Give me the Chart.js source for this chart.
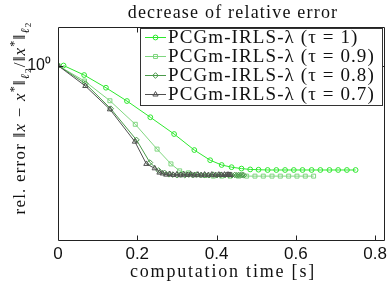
<!DOCTYPE html>
<html><head><meta charset="utf-8">
<script src="https://cdn.jsdelivr.net/npm/chart.js@4/dist/chart.umd.min.js"></script>
<style>html,body{margin:0;padding:0;background:#fff}#wrap{width:390px;height:283px}</style>
</head><body><div id="wrap"><canvas id="c" width="390" height="283"></canvas></div>
<script>
// ---- data ----
const seriesLabels = ['PCGm-IRLS-λ (τ = 1)', 'PCGm-IRLS-λ (τ = 0.9)', 'PCGm-IRLS-λ (τ = 0.8)', 'PCGm-IRLS-λ (τ = 0.7)'];
const xTicks = [0, 0.2, 0.4, 0.6, 0.8];
const yTicks = [1];

const time1 = [0.014, 0.066, 0.121, 0.174, 0.233, 0.293, 0.344, 0.384, 0.413, 0.438, 0.463, 0.485, 0.506, 0.529, 0.551, 0.573, 0.595, 0.617, 0.640, 0.662, 0.685, 0.707, 0.729, 0.751];
const err1  = [1.0, 0.916, 0.815, 0.721, 0.621, 0.532, 0.459, 0.418, 0.400, 0.392, 0.387, 0.384, 0.383, 0.382, 0.382, 0.382, 0.382, 0.382, 0.382, 0.382, 0.382, 0.382, 0.382, 0.382];

const time2 = [0, 0.067, 0.131, 0.195, 0.250, 0.285, 0.307, 0.329, 0.350, 0.371, 0.392, 0.413, 0.434, 0.455, 0.476, 0.497, 0.518, 0.540, 0.561, 0.582, 0.603, 0.624, 0.645];
const err2  = [1.0, 0.867, 0.723, 0.582, 0.463, 0.404, 0.379, 0.372, 0.366, 0.363, 0.361, 0.361, 0.361, 0.361, 0.361, 0.361, 0.361, 0.361, 0.361, 0.361, 0.361, 0.361, 0.361];

const time3 = [0, 0.069, 0.133, 0.198, 0.232, 0.254, 0.269, 0.280, 0.290, 0.300, 0.310, 0.320, 0.330, 0.340, 0.350, 0.360, 0.370, 0.381, 0.391, 0.401, 0.411, 0.421, 0.431, 0.439, 0.446, 0.451, 0.456, 0.461, 0.465, 0.469];
const err3  = [1.0, 0.847, 0.672, 0.504, 0.409, 0.380, 0.372, 0.367, 0.366, 0.364, 0.366, 0.364, 0.366, 0.364, 0.366, 0.364, 0.365, 0.364, 0.366, 0.364, 0.365, 0.364, 0.365, 0.364, 0.365, 0.364, 0.365, 0.364, 0.365, 0.364];

const time4 = [0, 0.069, 0.131, 0.194, 0.223, 0.244, 0.256, 0.264, 0.273, 0.282, 0.291, 0.300, 0.309, 0.317, 0.326, 0.335, 0.344, 0.353, 0.362, 0.370, 0.379, 0.388, 0.397, 0.406, 0.413, 0.420, 0.425, 0.429, 0.432, 0.436];
const err4  = [1.0, 0.828, 0.668, 0.496, 0.404, 0.388, 0.373, 0.370, 0.366, 0.368, 0.365, 0.367, 0.364, 0.367, 0.365, 0.367, 0.364, 0.366, 0.364, 0.366, 0.364, 0.366, 0.364, 0.366, 0.365, 0.366, 0.365, 0.366, 0.365, 0.365];

// ---- styles ----
const colors = ['#2ee82e', '#7fd67f', '#4a9a4a', '#505050'];
const markers = ['circle', 'rect', 'rectRot', 'triangle'];
const radii = [2.4, 2.8, 2.8, 3];

const times = [time1, time2, time3, time4];
const errs = [err1, err2, err3, err4];

const datasets = seriesLabels.map((lab, i) => ({
  label: lab,
  data: times[i].map((t, k) => ({x: t, y: errs[i][k]})),
  borderColor: colors[i],
  backgroundColor: 'rgba(0,0,0,0)',
  pointBorderColor: colors[i],
  pointBackgroundColor: 'rgba(0,0,0,0)',
  pointStyle: markers[i],
  pointRadius: radii[i],
  pointBorderWidth: 1,
  borderWidth: 1,
  tension: 0,
  order: 4 - i
}));

const SERIF = '"Liberation Serif", "DejaVu Serif", serif';

function drawRich(ctx, parts, cx, cy, rot, spacing) {
  ctx.save();
  ctx.translate(cx, cy);
  ctx.rotate(rot);
  if ('letterSpacing' in ctx) ctx.letterSpacing = spacing + 'px';
  let total = 0;
  parts.forEach(p => { ctx.font = p.f; p.w = ctx.measureText(p.t).width; total += p.w; });
  let x = -total / 2;
  ctx.textBaseline = 'alphabetic';
  ctx.textAlign = 'left';
  parts.forEach(p => { ctx.font = p.f; ctx.fillText(p.t, x, p.dy || 0); x += p.w; });
  ctx.restore();
}

function spacedText(ctx, text, x, y, spacing, align) {
  ctx.save();
  if ('letterSpacing' in ctx) ctx.letterSpacing = spacing + 'px';
  const w = ctx.measureText(text).width;
  ctx.textAlign = 'left';
  const sx = align === 'center' ? x - w / 2 : x;
  ctx.fillText(text, sx, y);
  ctx.restore();
}

const decorPlugin = {
  id: 'decor',
  afterDatasetsDraw(chart) {
    const {ctx, chartArea: a, scales: {x, y}} = chart;
    ctx.save();
    // frame
    ctx.strokeStyle = '#222';
    ctx.lineWidth = 1;
    const L = Math.round(a.left) + 0.5, R = Math.round(a.right) - 0.5, T = Math.round(a.top) + 0.5, B = Math.round(a.bottom) - 0.5;
    ctx.beginPath();
    ctx.rect(L, T, R - L, B - T);
    ctx.stroke();
    // inward ticks
    ctx.beginPath();
    x.ticks.forEach(tk => {
      const px = Math.round(x.getPixelForValue(tk.value)) + 0.5;
      if (px <= L + 1 || px >= R - 1) return;
      ctx.moveTo(px, B); ctx.lineTo(px, B - 5);
      ctx.moveTo(px, T); ctx.lineTo(px, T + 5);
    });
    y.ticks.forEach(tk => {
      const py = Math.round(y.getPixelForValue(tk.value)) + 0.5;
      ctx.moveTo(L, py); ctx.lineTo(L + 5, py);
      ctx.moveTo(R, py); ctx.lineTo(R - 5, py);
    });
    ctx.stroke();
    // legend box
    const bx = 140.5, by = 28.5, bw = 242, bh = 77;
    ctx.fillStyle = '#fff';
    ctx.fillRect(bx, by, bw, bh);
    ctx.strokeStyle = '#333';
    ctx.strokeRect(bx, by, bw, bh);
    chart.data.datasets.forEach((ds, i) => {
      const cy = 37.5 + i * 19;
      ctx.strokeStyle = ds.borderColor;
      ctx.lineWidth = 1;
      ctx.beginPath(); ctx.moveTo(145, cy); ctx.lineTo(166, cy); ctx.stroke();
      ctx.fillStyle = 'rgba(0,0,0,0)';
      ctx.strokeStyle = ds.borderColor;
      Chart.helpers.drawPoint(ctx, {pointStyle: ds.pointStyle, radius: ds.pointRadius, borderWidth: 1, rotation: 0}, 155.5, cy);
      ctx.fillStyle = '#111';
      ctx.font = '19px ' + SERIF;
      ctx.textBaseline = 'middle';
      spacedText(ctx, ds.label, 168, cy + 1, 1.1, 'left');
    });
    ctx.restore();
  },
  afterDraw(chart) {
    const {ctx} = chart;
    ctx.save();
    ctx.fillStyle = '#111';
    ctx.textBaseline = 'alphabetic';
    // title
    ctx.font = '18px ' + SERIF;
    spacedText(ctx, 'decrease of relative error', 233, 18, 1.2, 'center');
    // x axis title
    ctx.font = '18px ' + SERIF;
    spacedText(ctx, 'computation time [s]', 223, 277, 1.8, 'center');
    // y axis title
    const b = '17px ' + SERIF, it = 'italic 17px ' + SERIF, sm = '12px ' + SERIF, smi = 'italic 12px ' + SERIF, tiny = '9px ' + SERIF;
    const parts = [
      {t: 'rel. error ', f: b}, {t: '‖', f: b}, {t: 'x', f: it}, {t: ' − ', f: b}, {t: 'x', f: it}, {t: '*', f: sm, dy: -7},
      {t: '‖', f: b}, {t: 'ℓ', f: smi, dy: 4}, {t: '2', f: tiny, dy: 6}, {t: '/', f: b}, {t: '‖', f: b}, {t: 'x', f: it},
      {t: '*', f: sm, dy: -7}, {t: '‖', f: b}, {t: 'ℓ', f: smi, dy: 4}, {t: '2', f: tiny, dy: 6}
    ];
    drawRich(ctx, parts, 25, 118, -Math.PI / 2, 1.2);
    ctx.restore();
  }
};

new Chart(document.getElementById('c'), {
  type: 'line',
  data: {datasets},
  plugins: [decorPlugin],
  options: {
    responsive: false,
    devicePixelRatio: 1,
    animation: false,
    layout: {padding: {top: 27, right: 5, left: 0, bottom: 0}},
    plugins: {legend: {display: false}, title: {display: false}, tooltip: {enabled: false}},
    scales: {
      x: {
        type: 'linear', min: 0, max: 0.825,
        grid: {display: false, drawTicks: false}, border: {display: false},
        afterBuildTicks: s => { s.ticks = xTicks.map(v => ({value: v})); },
        afterFit: s => { s.height = 42; },
        ticks: {padding: 3, color: '#111', font: {family: '"Liberation Sans", Arial, sans-serif', size: 17}, callback: v => String(v), maxRotation: 0}
      },
      y: {
        type: 'logarithmic', min: 0.1986, max: 1.426,
        grid: {display: false, drawTicks: false}, border: {display: false},
        afterBuildTicks: s => { s.ticks = yTicks.map(v => ({value: v})); },
        afterFit: s => { s.width = 58; },
        ticks: {padding: 7, color: '#111', font: {family: '"Liberation Sans", Arial, sans-serif', size: 16}, callback: v => (v === 1 ? '10⁰' : '')}
      }
    }
  }
});
</script>
</body></html>
